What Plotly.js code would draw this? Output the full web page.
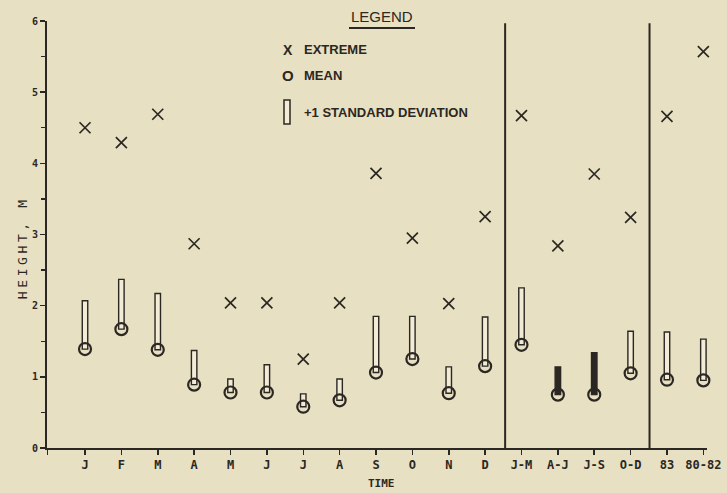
<!DOCTYPE html>
<html>
<head>
<meta charset="utf-8">
<script src="https://cdn.plot.ly/plotly-3.0.1.min.js"></script>
<style>
  html, body { margin: 0; padding: 0; background: #e7e0c2; }
  #chart { width: 727px; height: 493px; }
</style>
</head>
<body>
<div id="chart"></div>
<script>
// ---- data ----
const categories = ['J','F','M','A','M','J','J','A','S','O','N','D','J-M','A-J','J-S','O-D','83','80-82'];
const extremeHeight = [4.50, 4.29, 4.69, 2.87, 2.04, 2.04, 1.25, 2.04, 3.86, 2.95, 2.03, 3.25, 4.67, 2.84, 3.85, 3.24, 4.66, 5.57];
const meanHeight    = [1.39, 1.67, 1.38, 0.89, 0.78, 0.78, 0.58, 0.67, 1.06, 1.25, 0.77, 1.15, 1.45, 0.75, 0.75, 1.05, 0.96, 0.95];
const stdDeviation  = [0.68, 0.70, 0.79, 0.48, 0.19, 0.39, 0.18, 0.30, 0.79, 0.60, 0.37, 0.69, 0.80, 0.39, 0.59, 0.59, 0.67, 0.58];
const darkFilled    = ['A-J', 'J-S'];
const yTickLabels   = ['0','1','2','3','4','5','6'];

// ---- styling ----
const INK = '#2b2722';
const BG = '#e7e0c2';
const BAR_LIGHT = '#f2ecd6';
const MONO = 'DejaVu Sans Mono, monospace';
const SANS = 'Liberation Sans, Arial, sans-serif';

const xIdx = categories.map((_, i) => i);
const xRange = [-1.045, 17.1];

// plot-area pixel geometry (for paper-coordinate annotations)
const PL = 47, PR = 707, PT = 21, PB = 448;
const px = v => (v - PL) / (PR - PL);
const py = v => (PB - v) / (PB - PT);

const bars = {
  type: 'bar',
  x: xIdx,
  y: stdDeviation,
  base: meanHeight,
  width: 0.15,
  cliponaxis: false,
  marker: {
    color: categories.map(c => darkFilled.includes(c) ? INK : BAR_LIGHT),
    line: { color: INK, width: 1.4 }
  },
  hoverinfo: 'skip',
  showlegend: false
};

const means = {
  type: 'scatter',
  mode: 'markers',
  x: xIdx,
  y: meanHeight,
  cliponaxis: false,
  marker: { symbol: 'circle-open', size: 12, color: INK, line: { width: 2.2, color: INK } },
  showlegend: false
};

const extremes = {
  type: 'scatter',
  mode: 'markers',
  x: xIdx,
  y: extremeHeight,
  cliponaxis: false,
  marker: { symbol: 'x-thin-open', size: 11, color: INK, line: { width: 1.7, color: INK } },
  showlegend: false
};

const layout = {
  width: 727,
  height: 493,
  margin: { l: PL, r: 727 - PR, t: PT, b: 493 - PB, pad: 0 },
  paper_bgcolor: BG,
  plot_bgcolor: BG,
  showlegend: false,
  bargap: 0,
  xaxis: {
    range: xRange,
    showgrid: false,
    zeroline: false,
    showline: true,
    linecolor: INK,
    linewidth: 2,
    ticks: 'outside',
    ticklen: 5,
    tickwidth: 1.5,
    tickcolor: INK,
    tickvals: [xRange[0] + 0.01].concat(xIdx),
    ticktext: [''].concat(categories),
    tickfont: { family: MONO, size: 12, color: INK, weight: 'bold' },
    fixedrange: true
  },
  yaxis: {
    range: [0, 6],
    tickvals: yTickLabels.map(Number),
    ticktext: yTickLabels,
    showgrid: false,
    zeroline: false,
    showline: true,
    linecolor: INK,
    linewidth: 2,
    ticks: 'outside',
    ticklen: 5,
    tickwidth: 1.5,
    tickcolor: INK,
    minor: { dtick: 0.5, tick0: 0, ticks: 'outside', ticklen: 4, tickwidth: 1.2, tickcolor: INK, showgrid: false },
    tickfont: { family: MONO, size: 10, color: INK, weight: 'bold' },
    fixedrange: true
  },
  shapes: [
    { type: 'line', xref: 'x', yref: 'y', x0: 11.55, x1: 11.55, y0: 0, y1: 5.97, line: { color: INK, width: 2 } },
    { type: 'line', xref: 'x', yref: 'y', x0: 15.52, x1: 15.52, y0: 0, y1: 5.97, line: { color: INK, width: 2 } },
    // LEGEND underline
    { type: 'line', xref: 'paper', yref: 'paper', x0: px(349), x1: px(415), y0: py(28), y1: py(28), line: { color: INK, width: 2 } },
    // legend bar symbol
    { type: 'rect', xref: 'paper', yref: 'paper', x0: px(284), x1: px(290), y0: py(124), y1: py(100), fillcolor: BAR_LIGHT, line: { color: INK, width: 1.5 } }
  ],
  annotations: [
    { text: 'HEIGHT, M', xref: 'paper', yref: 'paper', x: px(23), y: py(248), textangle: -90, showarrow: false,
      xanchor: 'center', yanchor: 'middle', font: { family: MONO, size: 13, color: INK } },
    { text: 'TIME', xref: 'paper', yref: 'paper', x: px(381.5), y: py(483.5), showarrow: false,
      xanchor: 'center', yanchor: 'middle', font: { family: MONO, size: 11, color: INK, weight: 'bold' } },
    { text: 'LEGEND', xref: 'paper', yref: 'paper', x: px(382), y: py(17), showarrow: false,
      xanchor: 'center', yanchor: 'middle', font: { family: SANS, size: 15, color: INK } },
    { text: 'X', xref: 'paper', yref: 'paper', x: px(288), y: py(50), showarrow: false,
      xanchor: 'center', yanchor: 'middle', font: { family: SANS, size: 14, color: INK, weight: 'bold' } },
    { text: 'EXTREME', xref: 'paper', yref: 'paper', x: px(302), y: py(50), showarrow: false,
      xanchor: 'left', yanchor: 'middle', font: { family: SANS, size: 13, color: INK, weight: 'bold' } },
    { text: 'O', xref: 'paper', yref: 'paper', x: px(288), y: py(75.5), showarrow: false,
      xanchor: 'center', yanchor: 'middle', font: { family: SANS, size: 15, color: INK, weight: 'bold' } },
    { text: 'MEAN', xref: 'paper', yref: 'paper', x: px(302), y: py(75), showarrow: false,
      xanchor: 'left', yanchor: 'middle', font: { family: SANS, size: 13, color: INK, weight: 'bold' } },
    { text: '+1 STANDARD DEVIATION', xref: 'paper', yref: 'paper', x: px(302), y: py(112), showarrow: false,
      xanchor: 'left', yanchor: 'middle', font: { family: SANS, size: 13, color: INK, weight: 'bold' } }
  ]
};

Plotly.newPlot('chart', [bars, means, extremes], layout, { staticPlot: true, displayModeBar: false }).then(gd => {
  gd.querySelectorAll('.annotation-text').forEach(t => {
    if (t.textContent.indexOf('HEIGHT') === 0) t.style.letterSpacing = '3.6px';
  });
});
</script>
</body>
</html>
